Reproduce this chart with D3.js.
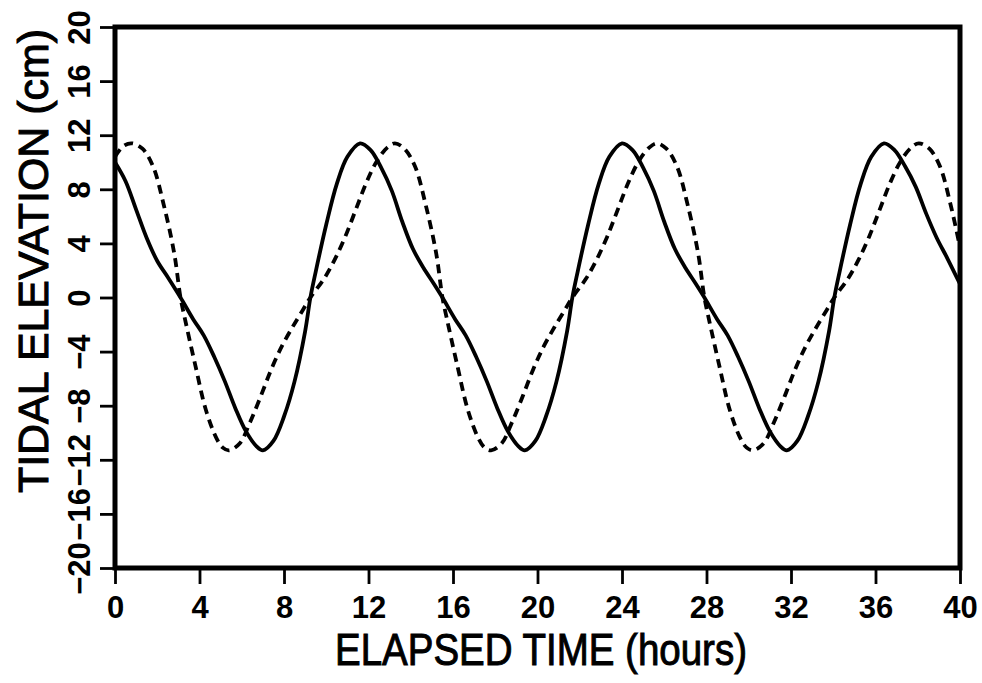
<!DOCTYPE html>
<html>
<head>
<meta charset="utf-8">
<script src="https://cdn.jsdelivr.net/npm/d3@7"></script>
<style>
  body { margin: 0; background: #fff; }
  text { font-family: "Liberation Sans Narrow", "Liberation Sans", Arial, sans-serif; fill: #000; }
</style>
</head>
<body>
<svg id="chart" width="982" height="683"></svg>
<script>
// tick values
var xTicks = [0, 4, 8, 12, 16, 20, 24, 28, 32, 36, 40];
var yTicks = [-20, -16, -12, -8, -4, 0, 4, 8, 12, 16, 20];

// solid curve (hours, cm)
var solidHours = [0, 0.5, 1.0, 1.5, 2.0, 2.5, 3.1, 3.7, 4.2, 4.7, 5.2, 5.7, 6.2, 6.7, 7.0,
  7.5, 8.0, 8.5, 9.0, 9.25, 9.5, 10.0, 10.5, 11.0, 11.6,
  12.1, 12.6, 13.1, 13.6, 14.1, 14.6, 15.1, 15.5, 16.1, 16.6, 17.1, 17.6, 18.1, 18.6, 19.1, 19.4,
  19.9, 20.4, 20.9, 21.4, 21.65, 21.9, 22.4, 22.9, 23.4, 24.0,
  24.5, 25.0, 25.5, 26.0, 26.5, 27.0, 27.5, 27.9, 28.5, 29.0, 29.5, 30.0, 30.5, 31.0, 31.5, 31.8,
  32.3, 32.8, 33.3, 33.8, 34.05, 34.3, 34.8, 35.3, 35.8, 36.4,
  36.9, 37.4, 37.9, 38.4, 38.9, 39.4, 40.0];
var solidCm = [10.0, 8.6, 6.5, 4.4, 2.7, 1.5, 0, -1.6, -2.8, -4.4, -6.2, -8.2, -9.9, -11.0, -11.3,
  -10.6, -8.8, -6.2, -2.5, 0, 1.9, 5.4, 8.4, 10.4, 11.4,
  10.9, 9.6, 7.9, 5.6, 3.6, 2.2, 1.0, 0, -1.6, -2.8, -4.4, -6.2, -8.2, -9.9, -11.0, -11.3,
  -10.6, -8.8, -6.2, -2.5, 0, 1.9, 5.4, 8.4, 10.4, 11.4,
  10.9, 9.6, 7.9, 5.6, 3.6, 2.2, 1.0, 0, -1.6, -2.8, -4.4, -6.2, -8.2, -9.9, -11.0, -11.3,
  -10.6, -8.8, -6.2, -2.5, 0, 1.9, 5.4, 8.4, 10.4, 11.4,
  10.9, 9.7, 8.2, 6.2, 4.4, 2.9, 1.0];

// dashed curve
var dashHours = [0, 0.4, 0.8, 1.3, 1.8, 2.3, 2.8, 3.1, 3.3, 3.8, 4.3, 4.8, 5.1, 5.4,
  5.9, 6.4, 6.9, 7.4, 7.9, 8.4, 8.9, 9.25, 9.9, 10.4, 10.9, 11.4, 11.9, 12.4, 12.9, 13.25,
  13.7, 14.2, 14.7, 15.2, 15.5, 15.7, 16.2, 16.7, 17.2, 17.5, 17.8,
  18.3, 18.8, 19.3, 19.8, 20.3, 20.8, 21.3, 21.65, 22.3, 22.8, 23.3, 23.8, 24.3, 24.8, 25.3, 25.65,
  26.1, 26.6, 27.1, 27.6, 27.9, 28.1, 28.6, 29.1, 29.6, 29.9, 30.2,
  30.7, 31.2, 31.7, 32.2, 32.7, 33.2, 33.7, 34.05, 34.7, 35.2, 35.7, 36.2, 36.7, 37.2, 37.7, 38.05,
  38.55, 39.05, 39.55, 40.0];
var dashCm = [10.4, 11.2, 11.4, 11.0, 9.7, 6.9, 3.3, 0, -1.5, -5.0, -8.3, -10.4, -11.1, -11.3,
  -10.8, -9.2, -7.3, -5.3, -3.6, -2.2, -0.9, 0, 1.4, 2.8, 4.5, 6.5, 8.5, 10.1, 11.1, 11.4,
  11.0, 9.7, 6.9, 3.3, 0, -1.5, -5.0, -8.3, -10.4, -11.1, -11.3,
  -10.8, -9.2, -7.3, -5.3, -3.6, -2.2, -0.9, 0, 1.4, 2.8, 4.5, 6.5, 8.5, 10.1, 11.1, 11.4,
  11.0, 9.7, 6.9, 3.3, 0, -1.5, -5.0, -8.3, -10.4, -11.1, -11.3,
  -10.8, -9.2, -7.3, -5.3, -3.6, -2.2, -0.9, 0, 1.4, 2.8, 4.5, 6.5, 8.5, 10.1, 11.1, 11.4,
  11.0, 9.7, 6.9, 3.7];

var svg = d3.select("#chart");
var plotL = 115, plotR = 960, plotT = 27, plotB = 568;

var x = d3.scaleLinear().domain([0, 40]).range([plotL, plotR]);
var y = d3.scaleLinear().domain([-20, 20]).range([plotB, plotT]);

var line = d3.line()
  .x(function (d) { return x(d[0]); })
  .y(function (d) { return y(d[1]); })
  .curve(d3.curveCatmullRom.alpha(0.5));

var solid = d3.zip(solidHours, solidCm);
var dashed = d3.zip(dashHours, dashCm);

svg.append("path").datum(dashed)
  .attr("d", line)
  .attr("fill", "none").attr("stroke", "#000")
  .attr("stroke-width", 3.8)
  .attr("stroke-dasharray", "9,6");

svg.append("path").datum(solid)
  .attr("d", line)
  .attr("fill", "none").attr("stroke", "#000")
  .attr("stroke-width", 3.8);

// axes
var yAxis = svg.append("g")
  .attr("transform", "translate(" + plotL + ",0)")
  .call(d3.axisLeft(y).tickValues(yTicks).tickSize(15));
yAxis.select(".domain").remove();
yAxis.selectAll("line").attr("stroke-width", 2.8);
yAxis.selectAll("text")
  .attr("x", 0).attr("dy", 0)
  .attr("text-anchor", "middle")
  .attr("transform", "translate(-25,0) rotate(-90)")
  .style("font-size", "31px").style("font-weight", "bold");

var xAxis = svg.append("g")
  .attr("transform", "translate(0," + plotB + ")")
  .call(d3.axisBottom(x).tickValues(xTicks).tickSize(16));
xAxis.select(".domain").remove();
xAxis.selectAll("line").attr("stroke-width", 2.8);
xAxis.selectAll("text")
  .attr("y", 50).attr("dy", 0)
  .style("font-size", "31px").style("font-weight", "bold");

// frame
svg.append("rect")
  .attr("x", plotL).attr("y", plotT)
  .attr("width", plotR - plotL).attr("height", plotB - plotT)
  .attr("fill", "none").attr("stroke", "#000").attr("stroke-width", 5);

// titles
svg.append("text")
  .attr("x", 541).attr("y", 665)
  .attr("text-anchor", "middle")
  .attr("textLength", 412).attr("lengthAdjust", "spacingAndGlyphs")
  .attr("stroke", "#000").attr("stroke-width", 1)
  .style("font-size", "45px")
  .text("ELAPSED TIME (hours)");

svg.append("text")
  .attr("transform", "translate(48,261) rotate(-90)")
  .attr("text-anchor", "middle")
  .attr("textLength", 464).attr("lengthAdjust", "spacingAndGlyphs")
  .attr("stroke", "#000").attr("stroke-width", 1)
  .style("font-size", "42px")
  .text("TIDAL ELEVATION (cm)");
</script>
</body>
</html>
